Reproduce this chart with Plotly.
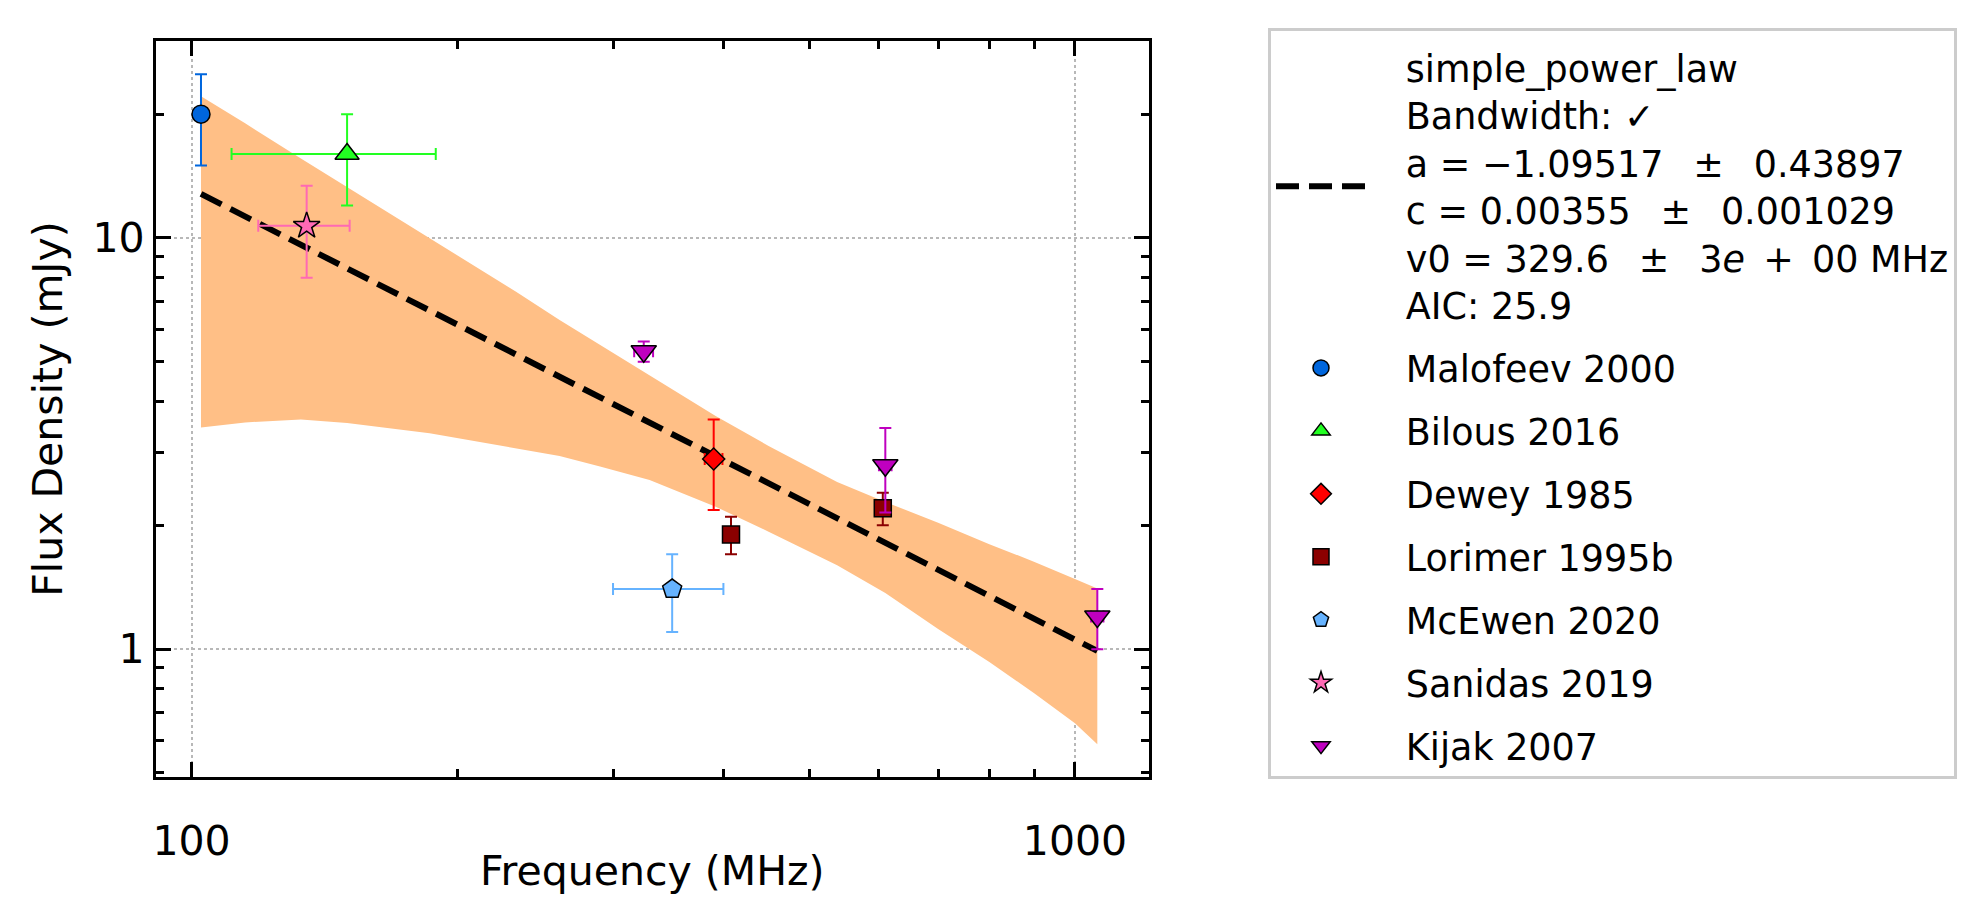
import plotly.graph_objects as go

# ---------------- data ----------------
malofeev_freq = [102.5]
malofeev_flux = [20.0]
malofeev_flux_err = [5.0]
malofeev_freq_err = [0.0]

bilous_freq = [150.0]
bilous_flux = [16.0]
bilous_flux_err = [4.0]
bilous_freq_err = [39.0]

dewey_freq = [390.0]
dewey_flux = [2.9]
dewey_flux_err = [0.72]
dewey_freq_err = [9.0]

lorimer_freq = [408.0, 606.0]
lorimer_flux = [1.9, 2.2]
lorimer_flux_err = [0.2, 0.2]
lorimer_freq_err = [8.0, 12.0]

mcewen_freq = [350.0]
mcewen_flux = [1.4]
mcewen_flux_err = [0.3]
mcewen_freq_err = [50.0]

sanidas_freq = [135.0]
sanidas_flux = [10.7]
sanidas_flux_err = [2.7]
sanidas_freq_err = [16.0]

kijak_freq = [325.0, 610.0, 1060.0]
kijak_flux = [5.3, 2.8, 1.2]
kijak_flux_err = [0.3, 0.65, 0.2]
kijak_freq_err = [8.0, 10.0, 17.0]

# fitted model (straight line in log-log) and its uncertainty band
fit_freq = [102.5, 1060.0]
fit_flux = [12.8, 0.99]

band_freq = [102.5, 115, 133, 150, 186, 233, 261, 290, 330, 392, 450, 538, 610, 700, 800, 900, 1000, 1060]
band_upper = [22.1, 19.0, 15.6, 13.3, 10.0, 7.4, 6.32, 5.5, 4.62, 3.69, 3.12, 2.55, 2.28, 2.03, 1.80, 1.63, 1.48, 1.405]
band_lower = [3.46, 3.56, 3.62, 3.55, 3.35, 3.08, 2.95, 2.78, 2.58, 2.22, 1.93, 1.60, 1.37, 1.12, 0.93, 0.78, 0.66, 0.587]

fit_label_lines = [
    "simple_power_law",
    "Bandwidth: \u2713",
    "a = \u22121.09517\u2002 \u00b1\u2002 0.43897",
    "c = 0.00355\u2002 \u00b1\u2002 0.001029",
    "v0 = 329.6\u2002 \u00b1\u2002 3<i>e</i>\u2002+\u200200 MHz",
    "AIC: 25.9",
]

x_tickvals = [100, 1000]
x_ticktext = ["100", "1000"]
y_tickvals = [1, 10]
y_ticktext = ["1", "10"]
x_minor = [200, 300, 400, 500, 600, 700, 800, 900]
y_minor = [0.5, 0.6, 0.7, 0.8, 0.9, 2, 3, 4, 5, 6, 7, 8, 9, 20, 30]

FONT = "DejaVu Sans"
PAD = "\u00a0\u00a0\u00a0"  # indent of legend labels

fit_label = "<br>".join(PAD + s for s in fit_label_lines)

fig = go.Figure()

# uncertainty band
fig.add_trace(go.Scatter(x=band_freq, y=band_upper, mode="lines", line=dict(width=0),
                         showlegend=False, hoverinfo="skip"))
fig.add_trace(go.Scatter(x=band_freq, y=band_lower, mode="lines", line=dict(width=0),
                         fill="tonexty", fillcolor="#FFBF86", showlegend=False, hoverinfo="skip"))

# fit line
fig.add_trace(go.Scatter(x=fit_freq, y=fit_flux, mode="lines", name=fit_label,
                         legendgroup="fit",
                         line=dict(color="black", width=6, dash="23px,10px")))

datasets = [
    ("Malofeev 2000", malofeev_freq, malofeev_flux, malofeev_freq_err, malofeev_flux_err, "#0066DD", "circle", 18),
    ("Bilous 2016", bilous_freq, bilous_flux, bilous_freq_err, bilous_flux_err, "#22FF22", "triangle-up", 21),
    ("Dewey 1985", dewey_freq, dewey_flux, dewey_freq_err, dewey_flux_err, "#FF0000", "diamond", 17),
    ("Lorimer 1995b", lorimer_freq, lorimer_flux, lorimer_freq_err, lorimer_flux_err, "#8B0000", "square", 17),
    ("McEwen 2020", mcewen_freq, mcewen_flux, mcewen_freq_err, mcewen_flux_err, "#66B3FF", "pentagon", 20),
    ("Sanidas 2019", sanidas_freq, sanidas_flux, sanidas_freq_err, sanidas_flux_err, "#FF69B4", "star", 20),
    ("Kijak 2007", kijak_freq, kijak_flux, kijak_freq_err, kijak_flux_err, "#BF00BF", "triangle-down", 22),
]

for name, fx, fy, ex, ey, col, sym, sz in datasets:
    fig.add_trace(go.Scatter(
        x=fx, y=fy, mode="markers", name=PAD + name, legendgroup=name,
        marker=dict(symbol=sym, size=sz, color=col, line=dict(color="black", width=1.5)),
        error_x=dict(type="data", array=ex, color=col, thickness=2, width=6),
        error_y=dict(type="data", array=ey, color=col, thickness=2, width=6),
    ))

axis_common = dict(
    type="log", showline=True, linecolor="black", linewidth=3.3, mirror="allticks",
    ticks="inside", ticklen=14.6, tickwidth=3.3, tickcolor="black",
    showgrid=True, gridcolor="#B8B8B8", gridwidth=2, griddash="dot",
    zeroline=False, tickfont=dict(family=FONT, size=41, color="black"),
)

fig.update_xaxes(**axis_common, range=[1.9598, 3.0838], tickmode="array",
                 tickvals=x_tickvals, ticktext=x_ticktext, ticklabelstandoff=26,
                 minor=dict(tickmode="array", tickvals=x_minor, ticks="inside",
                            ticklen=8.3, tickwidth=2.5, tickcolor="black", showgrid=False))
fig.update_yaxes(**axis_common, range=[-0.311, 1.479], tickmode="array",
                 tickvals=y_tickvals, ticktext=y_ticktext, ticklabelstandoff=0,
                 minor=dict(tickmode="array", tickvals=y_minor, ticks="inside",
                            ticklen=8.3, tickwidth=2.5, tickcolor="black", showgrid=False),
                 title=dict(text="Flux Density (mJy)", font=dict(family=FONT, size=41, color="black"),
                            standoff=18))

# x-axis title placed as an annotation so it can sit close to the tick labels
fig.add_annotation(text="Frequency (MHz)", xref="paper", yref="paper", x=0.5, y=-(871 - 777) / 736,
                   xanchor="center", yanchor="middle", showarrow=False,
                   font=dict(family=FONT, size=41, color="black"))

fig.update_layout(
    width=1988, height=924,
    margin=dict(l=156, r=839, t=41, b=147),
    paper_bgcolor="white", plot_bgcolor="white",
    font=dict(family=FONT, color="black"),
    legend=dict(xref="container", yref="container", x=1268 / 1988, y=1 - 28 / 924,
                xanchor="left", yanchor="top", bgcolor="white", bordercolor="#CCCCCC",
                borderwidth=3, font=dict(family=FONT, size=36.5, color="black"),
                title=dict(text="\u00a0", font=dict(family=FONT, size=5)),
                traceorder="grouped", tracegroupgap=12.5, itemwidth=90, valign="middle",
                maxheight=900),
)

fig.write_html("out.html", config={"displayModeBar": False})
